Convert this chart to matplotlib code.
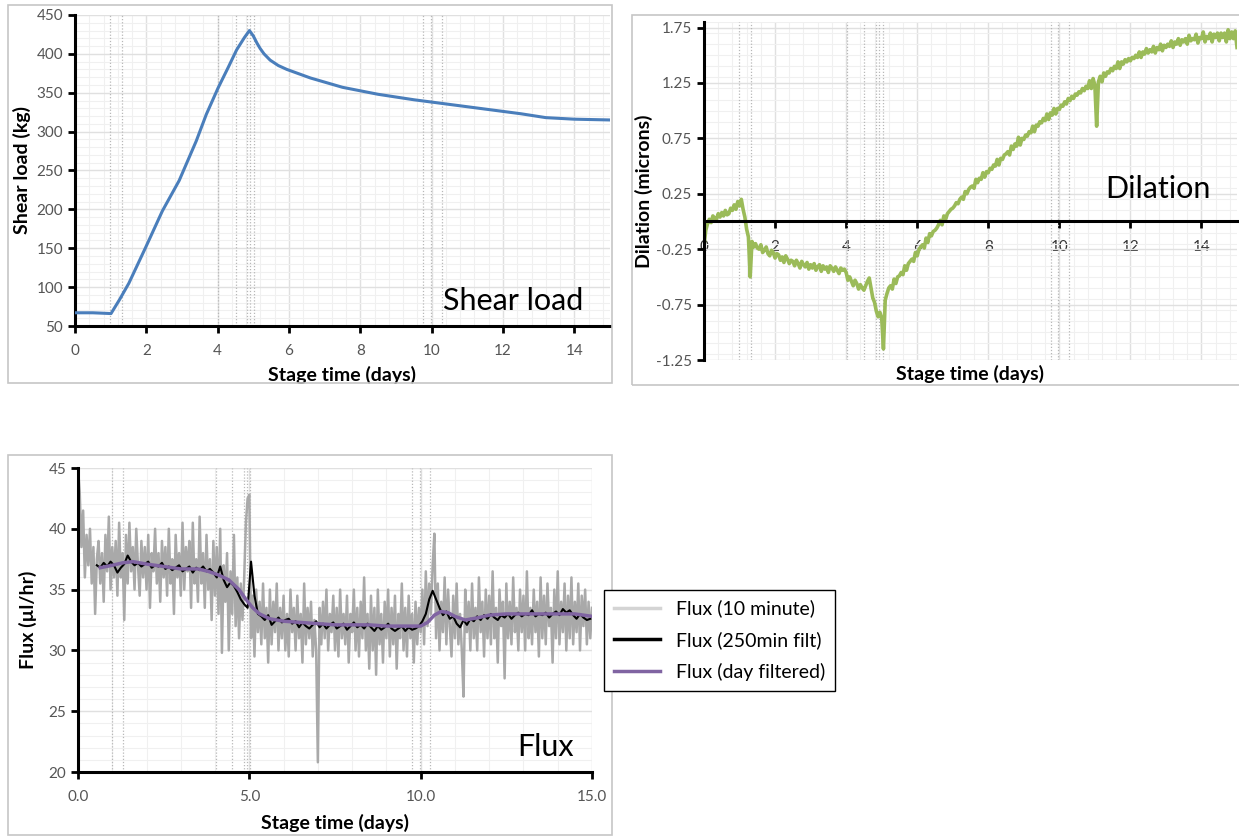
import matplotlib.pyplot as plt
import numpy as np
from matplotlib.patches import Rectangle
from matplotlib.lines import Line2D
from matplotlib.ticker import MultipleLocator, FormatStrFormatter

plt.rcParams['font.family'] = ['Lato', 'DejaVu Sans']

# ---------------------------------------------------------
# Dane
# ---------------------------------------------------------
# momenty zdarzeń w etapie (kropkowane linie pionowe na wszystkich wykresach)
event_days = [0.98, 1.32, 4.02, 4.50, 4.83, 4.92, 5.03, 9.76, 9.97, 10.28]

# obciążenie ścinające
shear_days = [0.0, 0.5, 1.01, 1.25, 1.51, 1.98, 2.45, 2.92, 3.4, 3.68, 4.01, 4.3,
              4.53, 4.75, 4.89, 5.0, 5.1, 5.19, 5.3, 5.47, 5.7, 5.94, 6.6, 7.5,
              8.5, 9.5, 10.5, 11.5, 12.5, 13.2, 14.0, 15.0]
shear_kg = [67, 67, 66, 84, 105, 151, 198, 237, 288, 322, 356, 383,
            405, 421, 430, 423, 414, 407, 400, 392, 385, 380, 369, 357,
            348, 341, 335, 329, 323, 318, 316, 315]

# dylatacja, co 0.05 dnia
dilation_days = np.linspace(0.0, 15.0, 301)
dilation_um = [
    -0.22, -0.08, -0.02, 0.02, -0.01, 0.05, 0.03, 0.02, 0.07, 0.04,
    0.08, 0.05, 0.10, 0.06, 0.07, 0.12, 0.10, 0.15, 0.11, 0.18,
    0.14, 0.20, 0.11, 0.04, -0.07, -0.14, -0.50, -0.18, -0.23, -0.20,
    -0.24, -0.25, -0.21, -0.28, -0.26, -0.23, -0.29, -0.31, -0.26, -0.28,
    -0.33, -0.29, -0.30, -0.35, -0.32, -0.37, -0.31, -0.34, -0.38, -0.35,
    -0.36, -0.40, -0.35, -0.38, -0.42, -0.36, -0.39, -0.41, -0.37, -0.43,
    -0.39, -0.42, -0.38, -0.44, -0.41, -0.39, -0.45, -0.40, -0.43, -0.41,
    -0.46, -0.40, -0.42, -0.45, -0.41, -0.44, -0.47, -0.42, -0.44, -0.43,
    -0.46, -0.53, -0.50, -0.54, -0.58, -0.53, -0.56, -0.61, -0.57, -0.60,
    -0.62, -0.58, -0.54, -0.51, -0.60, -0.69, -0.73, -0.81, -0.86, -0.82,
    -0.87, -1.15, -0.71, -0.65, -0.60, -0.58, -0.61, -0.52, -0.56, -0.50,
    -0.49, -0.46, -0.48, -0.40, -0.44, -0.38, -0.36, -0.34, -0.36, -0.28,
    -0.31, -0.25, -0.23, -0.21, -0.24, -0.15, -0.19, -0.11, -0.13, -0.09,
    -0.08, -0.06, -0.03, 0.01, -0.03, 0.05, 0.02, 0.07, 0.09, 0.11,
    0.12, 0.14, 0.17, 0.16, 0.20, 0.22, 0.20, 0.27, 0.25, 0.29,
    0.31, 0.32, 0.30, 0.38, 0.35, 0.39, 0.38, 0.44, 0.40, 0.45,
    0.44, 0.48, 0.47, 0.51, 0.50, 0.56, 0.51, 0.57, 0.56, 0.60,
    0.61, 0.63, 0.60, 0.68, 0.65, 0.70, 0.68, 0.76, 0.69, 0.75,
    0.74, 0.78, 0.77, 0.81, 0.80, 0.86, 0.81, 0.87, 0.86, 0.90,
    0.89, 0.93, 0.91, 0.97, 0.92, 0.98, 0.96, 1.02, 0.97, 1.02,
    1.01, 1.05, 1.04, 1.08, 1.06, 1.11, 1.09, 1.13, 1.11, 1.15,
    1.14, 1.17, 1.16, 1.20, 1.18, 1.22, 1.20, 1.27, 1.20, 1.29,
    1.23, 0.86, 1.26, 1.31, 1.26, 1.34, 1.31, 1.35, 1.34, 1.38,
    1.36, 1.40, 1.38, 1.44, 1.38, 1.44, 1.42, 1.46, 1.44, 1.47,
    1.45, 1.48, 1.47, 1.50, 1.48, 1.53, 1.48, 1.53, 1.51, 1.56,
    1.52, 1.55, 1.53, 1.58, 1.52, 1.57, 1.55, 1.60, 1.54, 1.59,
    1.57, 1.60, 1.58, 1.63, 1.57, 1.62, 1.60, 1.65, 1.59, 1.64,
    1.62, 1.65, 1.60, 1.68, 1.63, 1.65, 1.64, 1.69, 1.61, 1.66,
    1.65, 1.71, 1.62, 1.67, 1.65, 1.70, 1.62, 1.69, 1.66, 1.70,
    1.63, 1.70, 1.66, 1.70, 1.62, 1.73, 1.65, 1.71, 1.65, 1.72, 1.57,
]

# przepływ - pomiary 10-minutowe (przerzedzone do 0.05 dnia)
flux_raw_days = np.linspace(0.0, 15.0, 301)
flux_raw = [
    45.0, 43.0, 38.5, 41.5, 36.0, 39.5, 37.0, 40.0, 35.5, 38.5,
    33.0, 37.5, 39.0, 35.5, 38.0, 34.0, 39.5, 36.5, 41.0, 35.0,
    38.5, 36.0, 39.0, 34.5, 40.5, 36.0, 38.0, 32.5, 39.5, 35.5,
    40.5, 36.5, 38.5, 35.0, 40.0, 37.0, 34.5, 39.0, 36.0, 38.5,
    35.0, 39.5, 33.5, 38.0, 36.5, 40.0, 35.5, 38.0, 34.0, 39.0,
    36.0, 38.5, 34.5, 40.0, 35.5, 37.5, 33.0, 39.5, 36.0, 38.0,
    34.5, 40.5, 35.0, 38.5, 36.5, 39.0, 33.5, 40.5, 35.5, 37.5,
    34.0, 41.0, 35.5, 38.0, 33.5, 39.5, 35.0, 37.5, 32.5, 39.0,
    34.5, 38.5, 33.0, 40.0, 29.8, 37.0, 34.0, 38.0, 30.0, 36.5,
    33.0, 39.5, 32.0, 36.0, 31.0, 35.5, 32.5, 36.0, 40.5, 42.5,
    42.8, 31.0, 34.5, 29.5, 35.0, 31.5, 34.0, 30.5, 35.5, 31.0,
    33.5, 29.0, 35.0, 30.5, 34.0, 31.5, 35.5, 30.0, 33.5, 31.0,
    34.5, 30.0, 33.0, 29.5, 35.0, 31.5, 33.5, 30.0, 34.5, 31.0,
    33.0, 29.0, 35.5, 30.5, 33.5, 31.0, 34.0, 29.5, 32.5, 30.0,
    20.8, 33.5, 30.5, 34.0, 31.0, 35.0, 30.0, 33.0, 31.5, 34.5,
    30.0, 33.5, 29.5, 35.0, 31.0, 33.0, 30.5, 34.5, 29.0, 33.0,
    31.5, 35.0, 30.0, 33.5, 29.5, 34.0, 31.0, 36.0, 30.0, 33.0,
    28.5, 34.5, 30.0, 33.5, 28.0, 35.0, 30.5, 33.0, 29.0, 34.0,
    31.0, 35.0, 29.5, 33.5, 30.5, 34.5, 28.5, 33.0, 31.0, 35.5,
    30.0, 33.5, 29.5, 34.5, 31.0, 33.0, 29.0, 34.0, 30.5, 33.5,
    31.5, 35.0, 30.5, 36.5, 32.0, 35.5, 33.0, 37.0, 39.6, 31.0,
    35.5, 30.0, 34.0, 31.5, 36.0, 30.5, 35.0, 32.0, 29.5, 34.5,
    31.0, 35.5, 30.5, 33.0, 30.0, 26.2, 35.0, 31.5, 34.0, 30.0,
    35.5, 31.0, 33.5, 30.0, 36.0, 31.5, 34.0, 29.5, 35.0, 31.0,
    34.5, 30.5, 36.5, 31.0, 33.5, 29.0, 35.0, 32.0, 34.0, 27.7,
    35.5, 31.0, 34.0, 30.5, 36.0, 31.5, 33.5, 30.0, 35.0, 31.5,
    34.5, 30.0, 36.5, 31.0, 33.5, 30.5, 35.0, 31.5, 34.0, 29.5,
    36.0, 31.0, 34.5, 30.5, 35.5, 32.0, 33.5, 29.0, 35.0, 31.0,
    36.5, 30.5, 34.0, 31.5, 35.5, 30.0, 34.5, 31.0, 36.0, 30.5,
    34.0, 31.5, 35.5, 30.0, 34.5, 32.0, 35.0, 30.5, 34.0, 31.0, 33.5,
]

# przepływ - filtr 250 min, co 0.1 dnia od 0.55
flux_250_days = np.linspace(0.55, 14.95, 145)
flux_250 = [
    37.0, 36.8, 37.2, 36.9, 37.3, 37.0, 36.4, 36.8, 37.1, 37.8,
    37.3, 37.0, 37.2, 36.9, 37.1, 37.3, 36.8, 37.0, 36.9, 37.2,
    36.7, 36.9, 36.6, 36.8, 37.0, 36.5, 36.7, 36.9, 36.4, 36.8,
    36.6, 36.9, 36.5, 36.7, 36.4, 36.0, 36.9, 35.8, 35.2, 35.6,
    35.3, 34.8, 34.2, 33.8, 33.5, 37.3, 34.5, 33.0, 32.8, 32.5,
    32.9, 32.1, 32.4, 32.7, 32.3, 32.5, 32.6, 32.2, 32.4, 31.9,
    32.3, 32.0, 31.8, 32.1, 32.4, 31.9, 32.2, 31.8, 32.1, 32.3,
    31.8, 32.0, 32.2, 31.7, 32.0, 32.3, 31.9, 32.1, 31.8, 32.2,
    31.9, 31.6, 32.0, 31.7, 31.9, 32.2, 31.8, 31.6, 31.8, 32.0,
    31.6, 31.9, 31.7, 31.8, 32.0, 32.4, 33.0, 34.2, 34.9, 34.2,
    33.5, 32.9, 33.2, 32.6, 32.8, 32.2, 31.9, 32.5, 32.1, 32.6,
    32.4, 32.8, 32.5, 32.9, 32.6, 33.0, 32.7, 32.5, 32.9, 32.7,
    33.0, 32.6, 32.9, 33.1, 32.8, 33.0, 32.9, 33.3, 32.8, 33.0,
    32.9, 33.1, 32.7, 33.0, 33.2, 32.9, 33.4, 33.1, 33.3, 32.9,
    32.6, 33.0, 32.7, 32.5, 32.6,
]

# przepływ - filtr dobowy
flux_day_days = [0.65, 1.0, 1.3, 1.6, 2.0, 2.5, 3.0, 3.5, 3.8, 4.1, 4.4, 4.7, 4.9,
                 5.1, 5.3, 5.6, 6.0, 6.5, 7.0, 7.5, 8.0, 8.5, 9.0, 9.5, 10.0, 10.2,
                 10.4, 10.6, 10.8, 11.0, 11.3, 11.7, 12.0, 12.5, 13.0, 13.5, 14.0,
                 14.5, 15.0]
flux_day = [36.8, 37.0, 37.2, 37.3, 37.1, 36.9, 36.7, 36.7, 36.5, 36.2, 35.8, 35.0,
            34.2, 33.5, 33.0, 32.6, 32.4, 32.3, 32.2, 32.1, 32.1, 32.1, 32.0, 32.0,
            32.0, 32.3, 32.9, 33.2, 33.1, 32.8, 32.5, 32.7, 32.9, 33.0, 33.0, 33.0,
            33.0, 33.0, 32.8]

flux_labels = ['Flux (10 minute)', 'Flux (250min filt)', 'Flux (day filtered)']

# ---------------------------------------------------------
# Układ (w pikselach, przeliczany na ułamki figury)
# ---------------------------------------------------------
W, H = 1239, 838
fig = plt.figure(figsize=(W / 100, H / 100), dpi=100, facecolor='white')


def px_axes(left, top, right, bottom):
    return fig.add_axes([left / W, 1 - bottom / H, (right - left) / W, (bottom - top) / H])


def px_frame(left, top, right, bottom):
    fig.add_artist(Rectangle((left / W, 1 - bottom / H), (right - left) / W, (bottom - top) / H,
                             transform=fig.transFigure, fill=False,
                             edgecolor='#c6c6c6', linewidth=1.2))


def style_axes(ax, xminor, yminor):
    for side in ['top', 'right']:
        ax.spines[side].set_visible(False)
    for side in ['left', 'bottom']:
        ax.spines[side].set_linewidth(2.2)
        ax.spines[side].set_color('black')
    ax.xaxis.set_minor_locator(MultipleLocator(xminor))
    ax.yaxis.set_minor_locator(MultipleLocator(yminor))
    ax.grid(which='major', color='#e0e0e0', linewidth=1.0)
    ax.grid(which='minor', color='#f0f0f0', linewidth=0.8)
    ax.set_axisbelow(True)
    ax.tick_params(which='major', direction='out', length=5, width=2,
                   labelsize=11, labelcolor='#555555')
    ax.tick_params(which='minor', length=0)
    for d in event_days:
        ax.axvline(d, color='#b8b8b8', linewidth=0.9, linestyle=(0, (1, 1.5)), zorder=1)


# =========================================================
# Obciążenie ścinające
# =========================================================
px_frame(8, 5, 612, 383)
ax1 = px_axes(75, 15, 610, 326)
style_axes(ax1, 0.4, 10)
ax1.plot(shear_days, shear_kg, color='#4a7ebb', linewidth=2.2, zorder=3)
ax1.set_xlim(0, 15)
ax1.set_ylim(50, 450)
ax1.xaxis.set_major_locator(MultipleLocator(2))
ax1.yaxis.set_major_locator(MultipleLocator(50))
ax1.tick_params(axis='x', pad=8)
ax1.set_xlabel('Stage time (days)', fontsize=14, fontweight='bold', labelpad=6)
ax1.set_ylabel('Shear load (kg)', fontsize=14, fontweight='bold', labelpad=4)
ax1.text(0.95, 0.035, 'Shear load', transform=ax1.transAxes, ha='right', va='bottom',
         fontsize=22)

# =========================================================
# Dylatacja
# =========================================================
px_frame(632, 15, 1245, 385)
ax2 = px_axes(704, 22, 1237, 360)
style_axes(ax2, 0.4, 0.1)
ax2.spines['bottom'].set_position(('data', 0))
ax2.plot(dilation_days, dilation_um, color='#9bbb59', linewidth=2.6, zorder=2)
ax2.set_xlim(0, 15)
ax2.set_ylim(-1.25, 1.80)
ax2.xaxis.set_major_locator(MultipleLocator(2))
ax2.set_yticks([-1.25, -0.75, -0.25, 0.25, 0.75, 1.25, 1.75])
ax2.yaxis.set_minor_locator(MultipleLocator(0.1))
ax2.yaxis.set_major_formatter(FormatStrFormatter('%.2f'))
ax2.tick_params(axis='x', pad=8, labelcolor='#333333')
ax2.set_xlabel('Stage time (days)', fontsize=14, fontweight='bold')
ax2.xaxis.set_label_coords(0.5, -0.015)
ax2.set_ylabel('Dilation (microns)', fontsize=14, fontweight='bold', labelpad=2)
ax2.text(0.95, 0.478, 'Dilation', transform=ax2.transAxes, ha='right', va='baseline',
         fontsize=22)

# =========================================================
# Przepływ
# =========================================================
px_frame(8, 455, 612, 835)
ax3 = px_axes(78, 468, 592, 772)
style_axes(ax3, 1, 1)
ax3.plot(flux_raw_days, flux_raw, color='#a9a9a9', linewidth=1.8, zorder=2)
ax3.plot(flux_250_days, flux_250, color='black', linewidth=1.5, zorder=3)
ax3.plot(flux_day_days, flux_day, color='#8064a2', linewidth=2.5, zorder=4)
ax3.set_xlim(0, 15)
ax3.set_ylim(20, 45)
ax3.xaxis.set_major_locator(MultipleLocator(5))
ax3.xaxis.set_major_formatter(FormatStrFormatter('%.1f'))
ax3.yaxis.set_major_locator(MultipleLocator(5))
ax3.tick_params(axis='x', pad=8)
ax3.set_xlabel('Stage time (days)', fontsize=14, fontweight='bold', labelpad=7)
ax3.set_ylabel('Flux (µl/hr)', fontsize=14, fontweight='bold', labelpad=8)
ax3.text(0.965, 0.035, 'Flux', transform=ax3.transAxes, ha='right', va='bottom',
         fontsize=22)

handles = [Line2D([], [], color='#d4d4d4', linewidth=2.5),
           Line2D([], [], color='black', linewidth=2.5),
           Line2D([], [], color='#8064a2', linewidth=2.5)]
leg = fig.legend(handles, flux_labels, loc='upper left',
                 bbox_to_anchor=(604 / W, 1 - 590 / H), fontsize=14,
                 frameon=True, fancybox=False, edgecolor='black', framealpha=1,
                 handlelength=2.4, labelspacing=0.7, borderpad=0.5, borderaxespad=0)
leg.get_frame().set_linewidth(1.0)

fig.savefig('out.png', dpi=100, facecolor='white')
